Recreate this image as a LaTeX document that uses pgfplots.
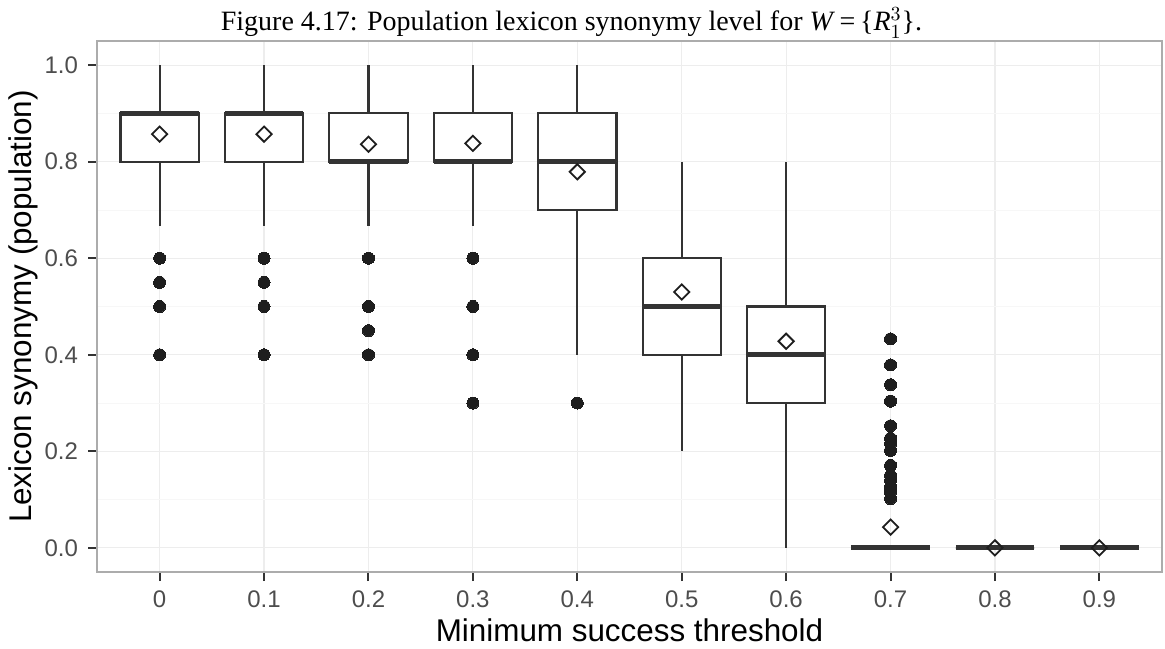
\documentclass[border=0pt]{standalone}
\usepackage{fontspec}
\setmainfont{Liberation Serif}
\setsansfont{Liberation Sans}
\usepackage{pgfplots}
\pgfplotsset{compat=1.18}
\usepgfplotslibrary{statistics}

\definecolor{boxline}{HTML}{333333}
\definecolor{ticktext}{HTML}{4D4D4D}
\definecolor{dots}{HTML}{1E1E1E}

\pgfplotsset{
  bx/.style={
    draw=boxline, fill=white, line width=1.05pt,
    mark=*, mark size=3pt,
    mark options={fill=dots, draw=dots, line width=0pt},
    boxplot/draw direction=y,
    boxplot/box extend=0.75,
    boxplot/whisker extend=0,
    boxplot/every median/.style={line width=2.6pt},
  },
}

\begin{document}
\begin{tikzpicture}
\useasboundingbox (-48.5pt,-38pt) rectangle (534pt,286pt);
\begin{axis}[
  scale only axis, width=532.5pt, height=265.5pt,
  xmin=-0.6, xmax=9.6, ymin=-0.05, ymax=1.05,
  xtick={0,1,2,3,4,5,6,7,8,9},
  xticklabels={0,0.1,0.2,0.3,0.4,0.5,0.6,0.7,0.8,0.9},
  ytick={0,0.2,0.4,0.6,0.8,1},
  yticklabels={0.0,0.2,0.4,0.6,0.8,1.0},
  minor ytick={0.1,0.3,0.5,0.7,0.9},
  grid=both, major grid style={gray!14, line width=0.6pt},
  minor grid style={gray!6, line width=0.4pt},
  axis line style={gray!65, line width=0.6pt},
  tick pos=left, tick align=outside,
  major tick length=4.5pt, minor tick length=0pt,
  major tick style={boxline, line width=1pt},
  ticklabel style={font=\fontsize{12}{12}\selectfont\sffamily, text=ticktext},
  xticklabel style={yshift=-1.5pt},
  yticklabel style={xshift=-1.5pt},
  xlabel={Minimum success threshold},
  ylabel={Lexicon synonymy (population)},
  label style={font=\fontsize{15.7}{15.7}\selectfont\sffamily},
  xlabel style={at={(axis description cs:0.5,-0.1318)}, anchor=base},
  ylabel style={at={(axis description cs:-0.0611,0.5)}, anchor=base},
  every axis title shift=0pt,
  title={Figure 4.17: Population lexicon synonymy level for \textit{W}\,=\,\{\textit{R}$_1^3$\}.},
  title style={font=\fontsize{14}{14}\selectfont\rmfamily,
    at={(axis description cs:0.4455,1)}, anchor=base, yshift=5pt},
]
\addplot[bx, boxplot prepared={draw position=0, lower whisker=0.667, lower quartile=0.8,
  median=0.9, upper quartile=0.9, upper whisker=1}]
  coordinates {(0,0.6) (0,0.55) (0,0.5) (0,0.4)};
\addplot[bx, boxplot prepared={draw position=1, lower whisker=0.667, lower quartile=0.8,
  median=0.9, upper quartile=0.9, upper whisker=1}]
  coordinates {(1,0.6) (1,0.55) (1,0.5) (1,0.4)};
\addplot[bx, boxplot prepared={draw position=2, lower whisker=0.667, lower quartile=0.8,
  median=0.8, upper quartile=0.9, upper whisker=1}]
  coordinates {(2,0.6) (2,0.5) (2,0.45) (2,0.4)};
\addplot[bx, boxplot prepared={draw position=3, lower whisker=0.667, lower quartile=0.8,
  median=0.8, upper quartile=0.9, upper whisker=1}]
  coordinates {(3,0.6) (3,0.5) (3,0.4) (3,0.3)};
\addplot[bx, boxplot prepared={draw position=4, lower whisker=0.4, lower quartile=0.7,
  median=0.8, upper quartile=0.9, upper whisker=1}]
  coordinates {(4,0.3)};
\addplot[bx, boxplot prepared={draw position=5, lower whisker=0.2, lower quartile=0.4,
  median=0.5, upper quartile=0.6, upper whisker=0.8}]
  coordinates {};
\addplot[bx, boxplot prepared={draw position=6, lower whisker=0, lower quartile=0.3,
  median=0.4, upper quartile=0.5, upper whisker=0.8}]
  coordinates {};
\addplot[bx, boxplot prepared={draw position=7, lower whisker=0, lower quartile=0,
  median=0, upper quartile=0, upper whisker=0}]
  coordinates {(7,0.433) (7,0.379) (7,0.338) (7,0.304) (7,0.253) (7,0.227) (7,0.216)
    (7,0.202) (7,0.171) (7,0.15) (7,0.14) (7,0.126) (7,0.116) (7,0.102)};
\addplot[bx, boxplot prepared={draw position=8, lower whisker=0, lower quartile=0,
  median=0, upper quartile=0, upper whisker=0}]
  coordinates {};
\addplot[bx, boxplot prepared={draw position=9, lower whisker=0, lower quartile=0,
  median=0, upper quartile=0, upper whisker=0}]
  coordinates {};
% means
\addplot[only marks, mark=square, mark size=2.7pt,
  mark options={rotate=45, draw=dots, fill=white, line width=0.9pt}]
  coordinates {(0,0.857) (1,0.857) (2,0.836) (3,0.838) (4,0.779)
    (5,0.53) (6,0.428) (7,0.043) (8,0) (9,0)};
\end{axis}
\end{tikzpicture}
\end{document}
